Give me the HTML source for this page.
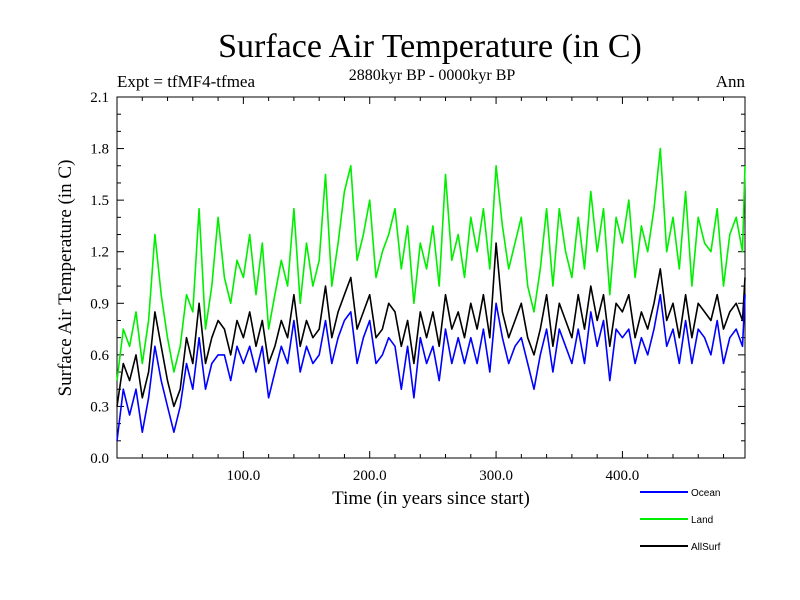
<!DOCTYPE html>
<html><head><meta charset="utf-8"><style>
body{margin:0;background:#fff}
svg{display:block}
text{font-family:"Liberation Serif",serif;fill:#000}
</style></head><body>
<svg id="chart" width="800" height="600" viewBox="0 0 800 600" xmlns="http://www.w3.org/2000/svg">
<text x="430" y="57" font-size="34" text-anchor="middle">Surface Air Temperature (in C)</text>
<text x="117" y="87" font-size="17">Expt = tfMF4-tfmea</text>
<text x="432" y="80" font-size="16" text-anchor="middle">2880kyr BP - 0000kyr BP</text>
<text x="745" y="87" font-size="17" text-anchor="end">Ann</text>
<text transform="translate(71,278) rotate(-90)" font-size="19" text-anchor="middle">Surface Air Temperature (in C)</text>
<text x="431" y="504" font-size="19" text-anchor="middle">Time (in years since start)</text>
<g id="axes"></g>
<g id="series"></g>
<g id="legend"></g>
</svg>
<script>
const years = [];
for (let i = 0; i < 100; i++) years.push(i * 5);
years.push(497);
const landValues = [0.45,0.75,0.65,0.85,0.55,0.80,1.30,0.95,0.70,0.50,
0.65,0.95,0.85,1.45,0.75,1.00,1.40,1.05,0.90,1.15,
1.05,1.30,0.95,1.25,0.75,0.95,1.15,1.00,1.45,0.90,
1.25,1.00,1.15,1.65,1.00,1.25,1.55,1.70,1.15,1.30,
1.50,1.05,1.20,1.30,1.45,1.10,1.35,0.90,1.25,1.10,
1.35,1.00,1.65,1.15,1.30,1.05,1.40,1.20,1.45,1.10,
1.70,1.35,1.10,1.25,1.40,1.00,0.85,1.10,1.45,1.00,
1.45,1.20,1.05,1.40,1.10,1.55,1.20,1.45,0.95,1.40,
1.25,1.50,1.05,1.35,1.20,1.45,1.80,1.20,1.40,1.10,
1.55,1.00,1.40,1.25,1.20,1.45,1.00,1.30,1.40,1.20,1.70];
const allSurfValues = [0.30,0.55,0.45,0.60,0.35,0.50,0.85,0.65,0.45,0.30,
0.40,0.70,0.55,0.90,0.55,0.70,0.80,0.75,0.60,0.80,
0.70,0.85,0.65,0.80,0.55,0.65,0.80,0.70,0.95,0.65,
0.80,0.70,0.75,1.00,0.70,0.85,0.95,1.05,0.75,0.85,
0.95,0.70,0.75,0.90,0.85,0.65,0.80,0.55,0.85,0.70,
0.85,0.65,0.95,0.75,0.85,0.70,0.90,0.75,0.95,0.70,
1.25,0.85,0.70,0.80,0.90,0.70,0.60,0.75,0.95,0.65,
0.90,0.80,0.70,0.95,0.75,1.00,0.80,0.95,0.65,0.90,
0.85,0.95,0.70,0.85,0.75,0.90,1.10,0.80,0.90,0.70,
0.95,0.70,0.90,0.85,0.80,0.95,0.75,0.85,0.90,0.80,1.05];
const oceanValues = [0.10,0.40,0.25,0.40,0.15,0.35,0.65,0.45,0.30,0.15,
0.30,0.55,0.40,0.70,0.40,0.55,0.60,0.60,0.45,0.65,
0.55,0.65,0.50,0.65,0.35,0.50,0.65,0.55,0.80,0.50,
0.65,0.55,0.60,0.80,0.55,0.70,0.80,0.85,0.55,0.70,
0.80,0.55,0.60,0.70,0.65,0.40,0.65,0.35,0.70,0.55,
0.65,0.45,0.75,0.55,0.70,0.55,0.70,0.55,0.75,0.50,
0.90,0.70,0.55,0.65,0.70,0.55,0.40,0.60,0.75,0.50,
0.75,0.65,0.55,0.75,0.55,0.85,0.65,0.80,0.45,0.75,
0.70,0.75,0.55,0.70,0.60,0.75,0.95,0.65,0.75,0.55,
0.80,0.55,0.75,0.70,0.60,0.80,0.55,0.70,0.75,0.65,0.95];
const yTickLabels = ["0.0","0.3","0.6","0.9","1.2","1.5","1.8","2.1"];
const xTickLabels = ["100.0","200.0","300.0","400.0"];

const NS = "http://www.w3.org/2000/svg";
const L = 117, R = 745, T = 97, B = 458;
const xMin = 0, xMax = 497, yMin = 0, yMax = 2.1;
const xs = v => L + (v - xMin) / (xMax - xMin) * (R - L);
const ys = v => B - (v - yMin) / (yMax - yMin) * (B - T);
function mk(tag, attrs, parent) {
  const e = document.createElementNS(NS, tag);
  for (const k in attrs) e.setAttribute(k, attrs[k]);
  parent.appendChild(e);
  return e;
}
const axes = document.getElementById("axes");
const frame = mk("rect", {x: L, y: T, width: R - L, height: B - T, fill: "none", stroke: "#000", "stroke-width": 1}, axes);


for (let v = 0; v <= 21; v++) {
  const y = ys(v / 10);
  const len = v % 3 === 0 ? 7 : 4;
  const t1 = mk("line", {x1: L, x2: L + len, y1: y, y2: y, stroke: "#000"}, axes);
  
  
  const t2 = mk("line", {x1: R, x2: R - len, y1: y, y2: y, stroke: "#000"}, axes);
  
  
}
yTickLabels.forEach(s => {
  const t = mk("text", {x: L - 8, y: ys(parseFloat(s)) + 5, "font-size": 15, "text-anchor": "end"}, axes);
  t.textContent = s;
  
  
});
for (let v = 20; v < xMax; v += 20) {
  const x = xs(v);
  const len = v % 100 === 0 ? 7 : 4;
  const t1 = mk("line", {x1: x, x2: x, y1: B, y2: B - len, stroke: "#000"}, axes);
  
  
  const t2 = mk("line", {x1: x, x2: x, y1: T, y2: T + len, stroke: "#000"}, axes);
  
  
}
xTickLabels.forEach(s => {
  const t = mk("text", {x: xs(parseFloat(s)), y: B + 22, "font-size": 15, "text-anchor": "middle"}, axes);
  t.textContent = s;
  
  
});
const series = document.getElementById("series");
const defs = [
  {name: "land-line", vals: landValues, color: "#00ee00"},
  {name: "allsurf-line", vals: allSurfValues, color: "#000000"},
  {name: "ocean-line", vals: oceanValues, color: "#0000ff"}
];
defs.forEach(d => {
  const pts = d.vals.map((v, i) => xs(years[i]).toFixed(1) + "," + ys(v).toFixed(1)).join(" ");
  const p = mk("polyline", {points: pts, fill: "none", stroke: d.color, "stroke-width": 1.6, "stroke-linejoin": "round"}, series);
  
  
});
const legend = document.getElementById("legend");
[["Ocean", "#0000ff", 492], ["Land", "#00ee00", 519], ["AllSurf", "#000000", 546]].forEach(e => {
  const ln = mk("line", {x1: 640, x2: 688, y1: e[2], y2: e[2], stroke: e[1], "stroke-width": 2}, legend);
  
  
  const t = mk("text", {x: 691, y: e[2] + 4, "font-size": 10, style: "font-family:'Liberation Sans',sans-serif"}, legend);
  t.textContent = e[0];
  
  
});
</script>
</body></html>
